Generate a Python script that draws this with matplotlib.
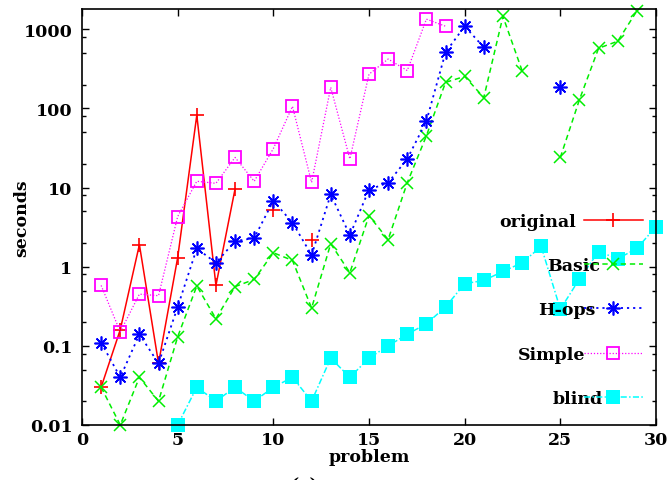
import numpy as np
import matplotlib
matplotlib.use("Agg")
import matplotlib.pyplot as plt
from matplotlib.ticker import FixedLocator, FuncFormatter

nan = np.nan

# problem numbers 1..30, nan = no result
problems = np.arange(1, 31)

original = [0.03, 0.16, 1.9, 0.06, 1.3, 82, 0.58, 9.6, nan, 5.2, nan, 2.2] + [nan] * 18
basic = [0.03, 0.01, 0.04, 0.02, 0.13, 0.57, 0.22, 0.56, 0.69, 1.5,
         1.2, 0.3, 1.95, 0.84, 4.4, 2.2, 11.5, 45, 213, 253,
         137, 1450, 300, nan, 24, 129, 575, 705, 1700, nan]
hops = [0.11, 0.04, 0.14, 0.06, 0.31, 1.7, 1.12, 2.1, 2.3, 6.8,
        3.6, 1.4, 8.2, 2.5, 9.4, 11.5, 23, 69, 510, 1090,
        590, nan, nan, nan, 185, nan, nan, nan, nan, nan]
simple = [0.58, 0.15, 0.45, 0.43, 4.3, 12, 11.3, 24, 12, 31,
          106, 11.6, 184, 23, 270, 420, 300, 1340, 1090] + [nan] * 11
blind = [nan, nan, nan, nan, 0.01, 0.03, 0.02, 0.03, 0.02, 0.03,
         0.04, 0.02, 0.07, 0.04, 0.07, 0.1, 0.14, 0.19, 0.31, 0.61,
         0.67, 0.87, 1.12, 1.8, 0.29, 0.7, 1.55, 1.26, 1.7, 3.2]

labels = ["original", "Basic", "H-ops", "Simple", "blind"]

plt.rcParams['font.family'] = ['DejaVu Serif']
plt.rcParams['font.weight'] = 'bold'
plt.rcParams['axes.labelweight'] = 'bold'
plt.rcParams['font.size'] = 12.5

fig = plt.figure(figsize=(6.68, 4.81), dpi=100)
ax = fig.add_axes([82/668, 1-426/481, (656-82)/668, (426-10)/481])

lw = 1.1
ax.plot(problems, original, color='#ff0000', ls='-', lw=lw, marker='+', ms=10, mew=1.2,
        label=labels[0], clip_on=False)
ax.plot(problems, basic, color='#00ee00', ls=(0, (3.5, 2.5)), lw=lw, marker='x', ms=9, mew=1.1,
        label=labels[1], clip_on=False)
ax.plot(problems, hops, color='#0000ff', ls=(0, (1.2, 2.2)), lw=1.3, marker=(8, 2, 0), ms=10, mew=1.2,
        label=labels[2], clip_on=False)
ax.plot(problems, simple, color='#ff00ff', ls=(0, (1, 1.5)), lw=0.9, marker='s', ms=8.5, mew=1.3,
        mfc='none', label=labels[3], clip_on=False)
ax.plot(problems, blind, color='#00ffff', ls=(0, (4, 1.5, 1, 1.5)), lw=lw, marker='s', ms=9.5, mew=0,
        label=labels[4], clip_on=False)

ax.set_yscale('log')
ax.set_xlim(0, 30)
ax.set_ylim(0.01, 1800)
ax.set_xticks([0, 5, 10, 15, 20, 25, 30])
ax.yaxis.set_major_locator(FixedLocator([0.01, 0.1, 1, 10, 100, 1000]))
ax.yaxis.set_major_formatter(FuncFormatter(lambda v, p: '%g' % v))
minors = [m * 10.0 ** e for e in range(-2, 4) for m in (2, 5, 8)]
ax.yaxis.set_minor_locator(FixedLocator(minors))
ax.yaxis.set_minor_formatter(FuncFormatter(lambda v, p: ''))
ax.tick_params(which='major', direction='in', length=5, width=1, top=True, right=True)
ax.tick_params(axis='x', which='major', pad=4)
ax.tick_params(axis='y', which='major', pad=7)
ax.tick_params(which='minor', direction='in', length=3, width=1, top=True, right=True)
ax.xaxis.set_minor_locator(FixedLocator([]))
for s in ax.spines.values():
    s.set_linewidth(1.2)

ax.set_xlabel('problem')
ax.set_ylabel('seconds')
ax.xaxis.set_label_coords(0.5, -0.056)
ax.yaxis.set_label_coords(-0.09, 0.5)

leg = ax.legend(loc='upper right', bbox_to_anchor=(0.977, 0.51), frameon=False,
                markerfirst=False, handlelength=3.4, handletextpad=0.45,
                labelspacing=1.57, borderpad=0, borderaxespad=0)
fig.canvas.draw()
renderer = fig.canvas.get_renderer()
widths = [t.get_window_extent(renderer).width for t in leg.get_texts()]
shift = max(widths)
for t, w in zip(leg.get_texts(), widths):
    t.set_position((shift - w, 0))

fig.text(0.455, -0.027, '(a)', ha='center', va='bottom')

fig.savefig('out.png', dpi=100)
